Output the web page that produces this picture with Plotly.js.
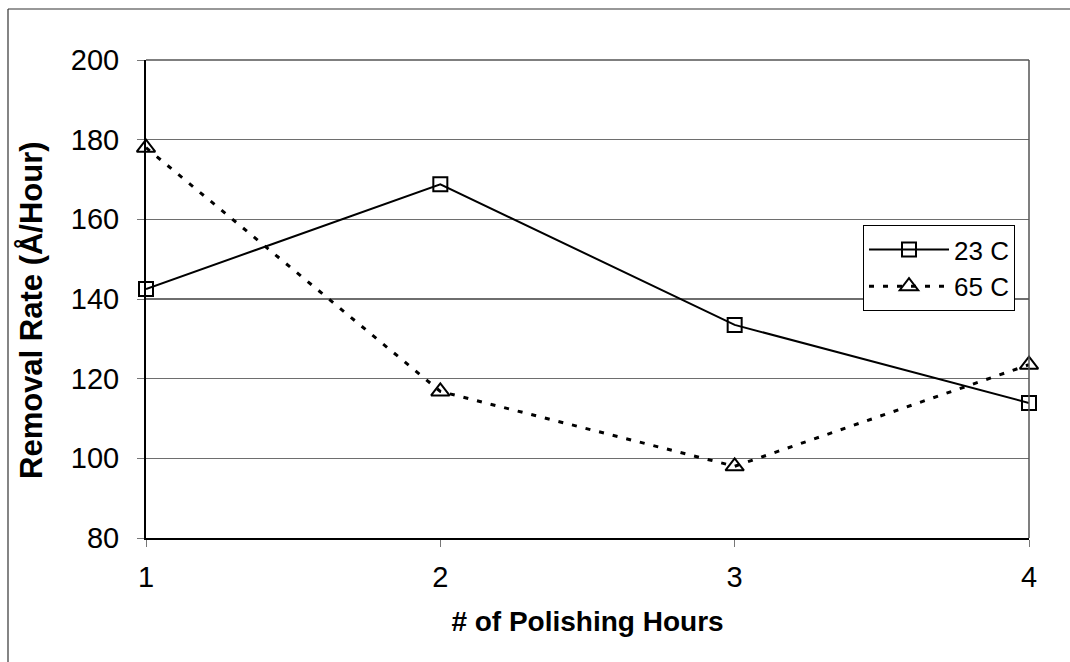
<!DOCTYPE html>
<html>
<head>
<meta charset="utf-8">
<script src="https://cdn.plot.ly/plotly-3.0.1.min.js"></script>
<style>html,body{margin:0;padding:0;background:#fff;}#chart{width:1070px;height:662px;}</style>
</head>
<body>
<div id="chart"></div>
<script>
const hours = [1, 2, 3, 4];
const rate23C = [142.5, 168.8, 133.5, 113.9];
const rate65C = [178, 116.8, 98, 123.5];
const seriesNames = ["23 C", "65 C"];
const yTicks = [80, 100, 120, 140, 160, 180, 200];
const xTitle = '# of Polishing Hours';
const yTitle = 'Removal Rate (Å/Hour)';

const W = 1070, H = 662;
const m = {l: 146, r: 41, t: 60, b: 124};
const pw = W - m.l - m.r, ph = H - m.t - m.b;
const px = x => (x - m.l) / pw;
const py = y => (H - m.b - y) / ph;

const traces = [
  {x: hours, y: rate23C, name: seriesNames[0], type: 'scatter', mode: 'lines+markers', cliponaxis: false,
   line: {color: '#000', width: 2},
   marker: {symbol: 'square-open', size: 14, color: '#000', line: {width: 2, color: '#000'}}},
  {x: hours, y: rate65C, name: seriesNames[1], type: 'scatter', mode: 'lines+markers', cliponaxis: false,
   line: {color: '#000', width: 3, dash: '5px,9px'},
   marker: {symbol: 'triangle-up-open', size: 16, color: '#000', line: {width: 2, color: '#000'}}}
];

const layout = {
  width: W, height: H,
  margin: m,
  paper_bgcolor: '#fff', plot_bgcolor: '#fff',
  font: {family: 'Liberation Sans, Arial, sans-serif', color: '#000'},
  showlegend: true,
  legend: {x: px(863), y: py(225), xanchor: 'left', yanchor: 'top',
           bgcolor: '#fff', bordercolor: '#000', borderwidth: 1,
           font: {size: 26, color: '#000'}, itemwidth: 80},
  xaxis: {range: [1, 4], tickvals: hours, ticktext: hours.map(String),
          showgrid: false, zeroline: false,
          showline: true, linecolor: '#000', linewidth: 2,
          ticks: 'outside', ticklen: 7, tickcolor: '#777', tickwidth: 1,
          tickfont: {size: 29}, ticklabelstandoff: 5,
          title: {text: '<b>' + xTitle + '</b>', font: {size: 28}, standoff: 20}},
  yaxis: {range: [80, 200], tickvals: yTicks,
          showgrid: true, gridcolor: '#6e6e6e', gridwidth: 1.3,
          zeroline: false,
          showline: true, linecolor: '#000', linewidth: 2,
          ticks: 'outside', ticklen: 7, tickcolor: '#777', tickwidth: 1,
          tickfont: {size: 29}, ticklabelstandoff: 12},
  annotations: [
    {text: '<b>' + yTitle + '</b>', xref: 'paper', yref: 'paper', x: px(31), y: py(310),
     xanchor: 'center', yanchor: 'middle', textangle: -90, showarrow: false,
     font: {size: 31, color: '#000'}}
  ],
  shapes: [
    {type: 'line', xref: 'paper', yref: 'paper', x0: 0, x1: 1, y0: 1, y1: 1, line: {color: '#555', width: 1.5}},
    {type: 'line', xref: 'paper', yref: 'paper', x0: 1, x1: 1, y0: 0, y1: 1, line: {color: '#555', width: 1.5}},
    {type: 'line', xref: 'paper', yref: 'paper', x0: px(8), x1: px(1070), y0: py(9), y1: py(9), line: {color: '#333', width: 1.2}},
    {type: 'line', xref: 'paper', yref: 'paper', x0: px(8), x1: px(8), y0: py(9), y1: py(662), line: {color: '#333', width: 1.2}}
  ]
};

Plotly.newPlot('chart', traces, layout, {displayModeBar: false, staticPlot: true});
</script>
</body>
</html>
